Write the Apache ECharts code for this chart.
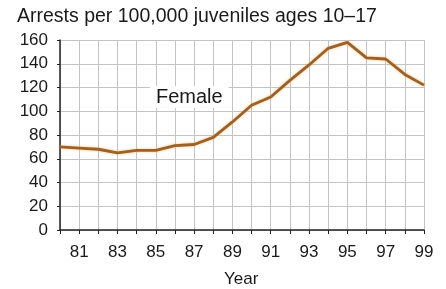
<!DOCTYPE html>
<html><head><meta charset="utf-8">
<script src="https://cdn.jsdelivr.net/npm/echarts@6/dist/echarts.min.js"></script>
<style>html,body{margin:0;padding:0;background:#fff}#c{width:446px;height:289px}</style>
</head><body><div id="c"></div>
<script>
const years = [1980,1981,1982,1983,1984,1985,1986,1987,1988,1989,1990,1991,1992,1993,1994,1995,1996,1997,1998,1999];
const female = [70,69,68,65,67,67,71,72,78,91,105,112,126,139,153,158,145,144,131,122];
const yTicks = [0,20,40,60,80,100,120,140,160];
const chart = echarts.init(document.getElementById('c'), null, {renderer:'canvas'});
const font = 'Liberation Sans, Arial, sans-serif';
chart.setOption({
  animation:false,
  grid:{left:60,right:22,top:40,bottom:59,containLabel:false},
  title:[
    {text:'Arrests per 100,000 juveniles ages 10–17',left:17,top:7,padding:0,textStyle:{fontFamily:font,fontSize:19.5,fontWeight:'normal',color:'#1a1a1a'}},
  ],
  graphic:[
    {type:'text',left:150,top:86,z:100,style:{text:'Female',font:'20px '+font,fill:'#1a1a1a',backgroundColor:'#ffffff',padding:[1,6,1,6]}},
    {type:'text',left:224,top:271,style:{text:'Year',font:'17px '+font,fill:'#1a1a1a'}}
  ],
  xAxis:{type:'category',data:years,boundaryGap:false,
    axisLine:{lineStyle:{color:'#222',width:1.5}},
    axisTick:{show:true,interval:0,length:4,lineStyle:{color:'#222'}},
    axisLabel:{interval:function(i){return i%2===1;},formatter:function(v){return String(v).slice(2);},fontFamily:font,fontSize:17,color:'#1a1a1a',margin:14},
    splitLine:{show:true,interval:0,lineStyle:{color:'#c4c4c4',width:1}}
  },
  yAxis:{type:'value',min:yTicks[0],max:yTicks[yTicks.length-1],interval:20,
    axisLine:{show:true,lineStyle:{color:'#222',width:1.5}},
    axisTick:{show:true,length:3,lineStyle:{color:'#222'}},
    axisLabel:{fontFamily:font,fontSize:17,color:'#1a1a1a',margin:12},
    splitLine:{show:true,lineStyle:{color:'#c4c4c4',width:1}}
  },
  series:[{type:'line',data:female,symbol:'none',smooth:false,
    lineStyle:{color:'#9c6128',width:2.8,shadowColor:'rgba(245,180,90,0.8)',shadowBlur:3}}]
});
</script></body></html>
